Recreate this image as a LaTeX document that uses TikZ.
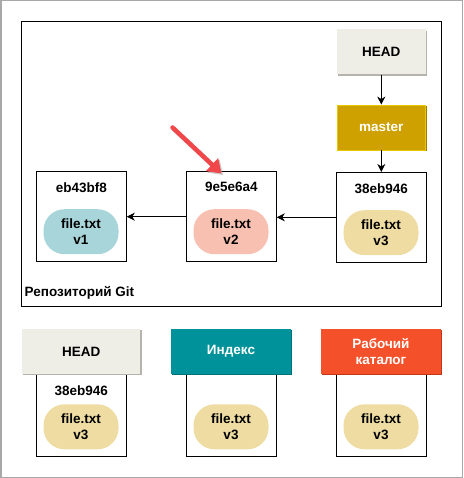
\documentclass[tikz,border=0pt]{standalone}
\usepackage{fontspec}
\setmainfont{Liberation Sans}
\usetikzlibrary{arrows.meta,shadows}
\definecolor{headfill}{HTML}{EEEDE6}
\definecolor{headshadow}{HTML}{B4B4AC}
\definecolor{masterfill}{HTML}{CFA100}
\definecolor{masterdraw}{HTML}{E8C800}
\definecolor{mastershadow}{HTML}{9A7A00}
\definecolor{tealfill}{HTML}{00929A}
\definecolor{tealshadow}{HTML}{00707A}
\definecolor{orangefill}{HTML}{F4502A}
\definecolor{orangeshadow}{HTML}{C03818}
\definecolor{pillone}{HTML}{A8D5DA}
\definecolor{pilltwo}{HTML}{F8C0B0}
\definecolor{pillthree}{HTML}{EEDCA2}
\definecolor{redarrow}{HTML}{F2474A}
\definecolor{frame}{HTML}{A8A8A8}
\tikzset{
  txt/.style={font=\fontsize{13.5}{16.7}\selectfont\bfseries, align=center, inner sep=0pt},
  labelbox/.style={txt, minimum height=45pt, general shadow={fill=#1, shadow xshift=1.2pt, shadow yshift=-1.2pt}},
  commitbox/.style={draw=black, line width=1pt, minimum width=90pt, minimum height=90pt, inner sep=0pt},
  subbox/.style={draw=black, line width=1pt, minimum width=90pt, minimum height=82pt, inner sep=0pt},
  pill/.style={txt, fill=#1, minimum width=75pt, minimum height=45pt, rounded corners=21pt},
  conn/.style={-{Stealth[length=8pt,width=8pt,inset=2.5pt]}, line width=0.9pt, black},
}
\begin{document}
\begin{tikzpicture}[x=1pt,y=-1pt]
\useasboundingbox (0,0) rectangle (463,478);
\draw[frame, line width=1.5pt] (0.75,0.75) rectangle (462.25,477.25);
% repository frame
\draw[black, line width=1pt] (21.5,21.5) rectangle (441.5,306);
\node[txt, anchor=west] (repo) at (24.5,292.7) {Репозиторий Git};
% HEAD and master
\node[labelbox=headshadow, fill=headfill, minimum width=88.7pt] (head) at (381.3,52) {HEAD};
\node[labelbox=mastershadow, fill=masterfill, draw=masterdraw, line width=0.8pt, minimum width=88.7pt, text=white] (master) at (381.3,127.5) {master};
% commits
\node[commitbox] (c1) at (81.3,216.2) {};
\node[commitbox] (c2) at (231.3,216.2) {};
\node[commitbox] (c3) at (381.3,217.5) {};
\node[txt] (h1) at (81.3,187.3) {eb43bf8};
\node[txt] (h2) at (231.3,187.3) {9e5e6a4};
\node[txt] (h3) at (381.3,188.7) {38eb946};
\node[pill=pillone] (p1) at (81,231.7) {file.txt\\v1};
\node[pill=pilltwo] (p2) at (231,231.7) {file.txt\\v2};
\node[pill=pillthree] (p3) at (381,232.7) {file.txt\\v3};
% connectors
\draw[conn] (head.south) -- (master.north);
\draw[conn] (master.south) -- (c3.north);
\draw[conn] (c3.west |- 0,217.3) -- (c2.east |- 0,217.3);
\draw[conn] (c2.west |- 0,216.7) -- (c1.east |- 0,216.7);
% red pointer
\coordinate (rs) at (172.5,127.5);
\coordinate (rt) at (221.5,173.5);
\draw[line width=4.5pt, line cap=round, black!35, opacity=0.6, -{Triangle[length=13pt,width=17pt]}] ([shift={(1.5,1.5)}]rs) -- ([shift={(1.5,1.5)}]rt);
\draw[line width=4.5pt, line cap=round, redarrow, -{Triangle[length=13pt,width=17pt]}] (rs) -- (rt);
% bottom row
\node[subbox] (s1) at (81.3,415) {};
\node[subbox] (s2) at (231.3,415) {};
\node[subbox] (s3) at (381.3,415) {};
\node[labelbox=headshadow, fill=headfill, minimum width=118.3pt] (bhead) at (81.2,351.5) {HEAD};
\node[labelbox=tealshadow, fill=tealfill, minimum width=120pt, text=white] (bindex) at (231,351.5) {Индекс};
\node[labelbox=orangeshadow, fill=orangefill, minimum width=120pt, text=white] (bwork) at (381,351.5) {Рабочий\\каталог};
\node[txt] (bh) at (81.3,390.7) {38eb946};
\node[pill=pillthree] (q1) at (81,426.8) {file.txt\\v3};
\node[pill=pillthree] (q2) at (231,426.8) {file.txt\\v3};
\node[pill=pillthree] (q3) at (381,426.8) {file.txt\\v3};
\end{tikzpicture}
\end{document}
